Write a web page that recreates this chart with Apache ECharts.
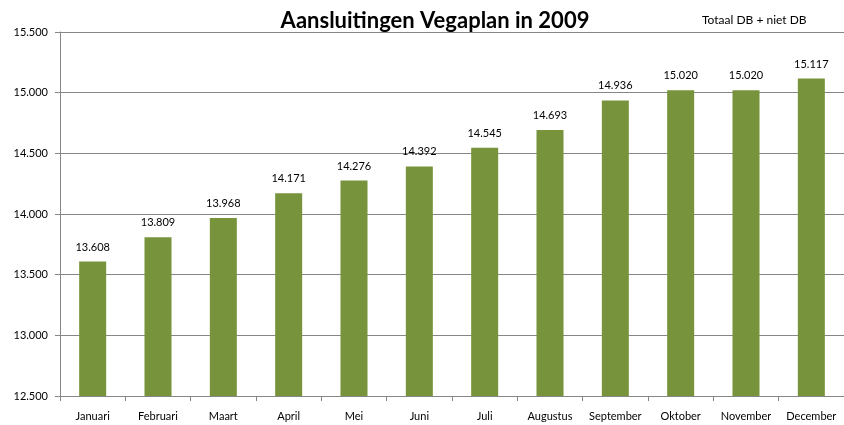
<!DOCTYPE html>
<html><head><meta charset="utf-8">
<script src="https://cdn.jsdelivr.net/npm/echarts@6/dist/echarts.min.js"></script>
<style>html,body{margin:0;padding:0;background:#fff}#c{width:844px;height:425px}</style>
</head><body><div id="c"></div>
<script>
const categories = ['Januari','Februari','Maart','April','Mei','Juni','Juli','Augustus','September','Oktober','November','December'];
const values = [13608, 13809, 13968, 14171, 14276, 14392, 14545, 14693, 14936, 15020, 15020, 15117];
const seriesName = 'Totaal DB + niet DB';
const titleText = 'Aansluitingen Vegaplan in 2009';
const fmt = v => { const s = String(Math.round(v)); return s.length > 3 ? s.slice(0, s.length-3) + '.' + s.slice(-3) : s; };
const font = 'Lato, "Open Sans", sans-serif';
const chart = echarts.init(document.getElementById('c'), null, {renderer:'canvas'});
chart.setOption({
  animation:false,
  title:{text:titleText,left:430,textAlign:'center',top:5,textStyle:{fontFamily:font,fontWeight:'bold',fontSize:22,color:'#000'}},
  legend:{data:[{name:seriesName,icon:'none'}],left:692,top:8,itemWidth:0,itemGap:0,textStyle:{fontFamily:font,fontSize:12,color:'#000'}},
  grid:{left:60,right:0,top:32,bottom:29,containLabel:false},
  xAxis:{type:'category',data:categories,
    axisLine:{lineStyle:{color:'#868686'}},
    axisTick:{show:true,length:5,lineStyle:{color:'#868686'},alignWithLabel:false},
    axisLabel:{fontFamily:font,fontSize:11,color:'#000',margin:15,interval:0}},
  yAxis:{type:'value',min:12500,max:15500,interval:500,
    axisLine:{show:true,lineStyle:{color:'#868686'}},
    axisTick:{show:true,length:5,lineStyle:{color:'#868686'}},
    splitLine:{lineStyle:{color:'#868686'}},
    axisLabel:{fontFamily:font,fontSize:11,color:'#000',margin:12,formatter:fmt}},
  series:[{name:seriesName,type:'bar',data:values,barWidth:27,
    itemStyle:{color:'#77933C'},
    label:{show:true,position:'top',distance:9,fontFamily:font,fontSize:11,color:'#000',formatter:p=>fmt(p.value)}}]
});
</script></body></html>
